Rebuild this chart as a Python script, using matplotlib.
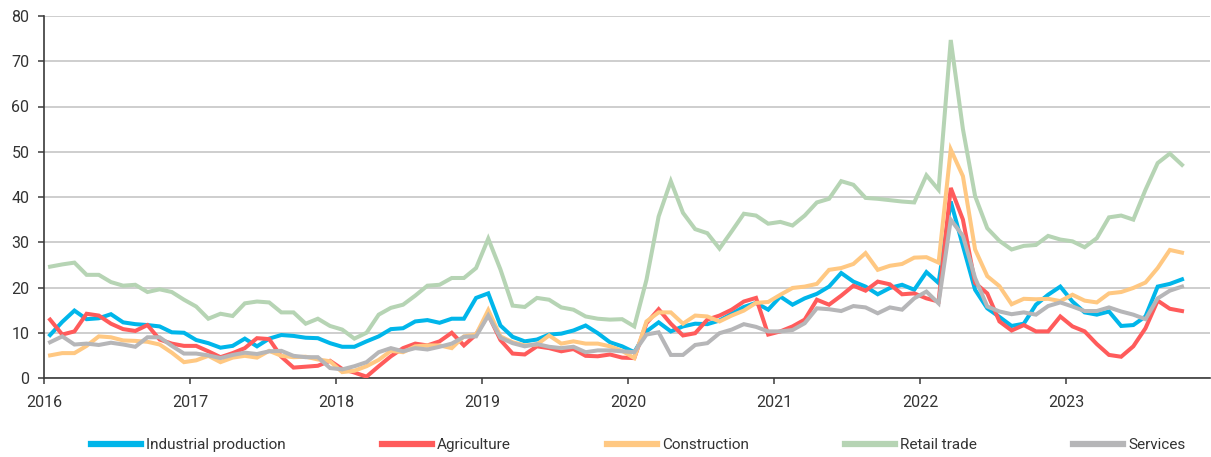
"""
Monthly series 2016-2023 by sector, line chart with legend below
"""
# ---   IMPORTS   --- #
# ------------------- #
import numpy as np
import matplotlib
matplotlib.use('Agg')
import matplotlib.pyplot as plt


# ---   SPECIFICATION   --- #
# ------------------------- #
YEARS = ['2016', '2017', '2018', '2019', '2020', '2021', '2022', '2023']

INDUSTRIAL = [
    9.5, 12.4, 14.9, 13.0, 13.2, 14.1, 12.3, 11.9, 11.7, 11.4, 10.1, 10.0,
    8.4, 7.7, 6.7, 7.1, 8.7, 7.0, 8.7, 9.5, 9.3, 8.9, 8.8, 7.7,
    6.9, 6.9, 8.1, 9.2, 10.8, 11.0, 12.5, 12.8, 12.2, 13.1, 13.1, 17.7,
    18.7, 11.6, 9.1, 8.1, 8.5, 9.6, 9.8, 10.5, 11.6, 9.9, 7.9, 7.0,
    5.7, 10.3, 12.3, 10.3, 11.4, 12.0, 11.9, 12.7, 14.2, 15.7, 16.6, 15.1,
    18.0, 16.2, 17.6, 18.6, 20.2, 23.2, 21.3, 20.2, 18.5, 19.9, 20.6, 19.5,
    23.4, 21.0, 39.0, 29.2, 19.5, 15.4, 13.5, 11.5, 12.0, 16.2, 18.4, 20.2,
    16.9, 14.5, 14.0, 14.7, 11.5, 11.7, 13.6, 20.2, 20.8, 21.8
]
AGRICULTURE = [
    12.9, 9.6, 10.3, 14.2, 13.8, 12.0, 10.8, 10.4, 11.7, 8.5, 7.6, 7.1,
    7.1, 5.9, 4.6, 5.5, 6.6, 8.8, 8.6, 4.7, 2.3, 2.5, 2.7, 3.8,
    2.0, 1.2, 0.3, 2.6, 4.8, 6.6, 7.6, 7.2, 8.1, 10.0, 7.2, 9.6,
    14.0, 8.4, 5.4, 5.2, 7.0, 6.6, 5.9, 6.4, 4.9, 4.8, 5.2, 4.5,
    4.4, 12.1, 15.2, 12.0, 9.4, 9.9, 12.9, 13.8, 15.1, 16.9, 17.7, 9.6,
    10.3, 11.4, 12.9, 17.3, 16.2, 18.2, 20.4, 19.3, 21.3, 20.7, 18.5, 18.7,
    17.6, 16.9, 42.0, 35.0, 21.0, 18.7, 12.5, 10.5, 11.7, 10.3, 10.3, 13.6,
    11.4, 10.3, 7.5, 5.1, 4.7, 7.0, 11.0, 17.1, 15.3, 14.8
]
CONSTRUCTION = [
    5.0, 5.5, 5.5, 7.1, 9.2, 9.0, 8.3, 8.2, 8.0, 7.4, 5.6, 3.5,
    3.9, 4.9, 3.5, 4.5, 4.9, 4.5, 6.0, 4.9, 4.6, 4.7, 4.1, 3.7,
    1.3, 1.6, 2.6, 4.0, 6.0, 5.7, 7.0, 7.2, 7.2, 6.6, 9.2, 9.6,
    15.0, 9.2, 7.9, 7.2, 7.4, 9.4, 7.6, 8.1, 7.6, 7.6, 7.0, 6.0,
    4.4, 12.5, 14.5, 14.5, 12.0, 13.8, 13.6, 12.5, 13.8, 14.9, 16.6, 16.8,
    18.4, 19.9, 20.2, 20.8, 23.9, 24.3, 25.2, 27.6, 23.9, 24.8, 25.2, 26.6,
    26.7, 25.5, 50.5, 44.6, 28.4, 22.5, 20.3, 16.3, 17.5, 17.4, 17.5, 17.0,
    18.4, 17.1, 16.7, 18.7, 19.0, 19.9, 21.1, 24.3, 28.3, 27.7
]
RETAIL = [
    24.6, 25.1, 25.5, 22.8, 22.8, 21.2, 20.4, 20.6, 19.0, 19.6, 19.0, 17.3,
    15.8, 13.1, 14.2, 13.7, 16.5, 16.9, 16.7, 14.5, 14.5, 12.0, 13.1, 11.5,
    10.7, 8.7, 10.0, 14.0, 15.5, 16.2, 18.2, 20.4, 20.6, 22.1, 22.1, 24.3,
    30.8, 24.0, 16.0, 15.7, 17.7, 17.3, 15.6, 15.1, 13.6, 13.1, 12.9, 13.0,
    11.4, 21.7, 35.7, 43.5, 36.5, 32.9, 32.0, 28.6, 32.4, 36.3, 35.9, 34.1,
    34.5, 33.7, 35.9, 38.8, 39.6, 43.5, 42.7, 39.8, 39.6, 39.3, 39.0, 38.8,
    44.8, 41.6, 74.7, 55.0, 40.2, 33.1, 30.3, 28.4, 29.2, 29.4, 31.4, 30.6,
    30.2, 28.9, 30.9, 35.5, 35.9, 35.0, 41.6, 47.5, 49.6, 47.1
]
SERVICES = [
    7.9, 9.2, 7.4, 7.6, 7.3, 7.8, 7.4, 6.9, 9.0, 9.0, 7.1, 5.4,
    5.4, 5.0, 4.4, 5.1, 5.6, 5.3, 5.9, 6.0, 4.9, 4.6, 4.6, 2.2,
    1.9, 2.6, 3.5, 5.7, 6.6, 5.9, 6.6, 6.3, 6.9, 7.6, 9.1, 9.2,
    13.8, 8.9, 7.7, 7.0, 7.5, 6.9, 6.6, 6.9, 5.7, 6.1, 6.1, 5.9,
    5.7, 9.6, 10.1, 5.1, 5.1, 7.3, 7.7, 9.9, 10.7, 11.9, 11.3, 10.3,
    10.3, 10.6, 12.1, 15.4, 15.2, 14.8, 15.9, 15.6, 14.3, 15.6, 15.1, 17.6,
    19.1, 16.5, 35.0, 31.4, 22.1, 15.8, 14.7, 14.1, 14.5, 14.0, 15.9, 16.7,
    15.8, 14.8, 14.8, 15.6, 14.7, 14.0, 13.0, 17.6, 19.3, 20.2
]

SERIES_NAMES = [
    'Industrial production', 'Agriculture', 'Construction',
    'Retail trade', 'Services'
]
SERIES_COLORS = ['#00b6ea', '#ff5b5b', '#ffc882', '#b6d4b4', '#b6b6b8']


# ---   METHODS   --- #
# ------------------- #
def graph():
    series = [INDUSTRIAL, AGRICULTURE, CONSTRUCTION, RETAIL, SERVICES]
    # Months since Jan 2016, points placed mid-month
    x = np.arange(len(INDUSTRIAL)) + 0.5
    # Initialize figure
    fig = plt.figure(figsize=(12.11, 4.57), dpi=100)
    ax = fig.add_axes([44 / 1211, 1 - 378 / 457, 1166 / 1211, 362 / 457])
    # Plot data
    for name, y, color in zip(SERIES_NAMES, series, SERIES_COLORS):
        ax.plot(x, y, color=color, lw=2.9, label=name,
                solid_joinstyle='miter', zorder=3)
    # Format axes
    ax.set_xlim(0, 95.8)
    ax.set_ylim(0, 80)
    ax.set_yticks(np.arange(0, 81, 10))
    ax.set_xticks(np.arange(len(YEARS)) * 12)
    ax.set_xticklabels(YEARS)
    ax.grid(axis='y', color='#c6c6c6', lw=1.2)
    ax.set_axisbelow(True)
    for side in ['top', 'right']:
        ax.spines[side].set_visible(False)
    for side in ['left', 'bottom']:
        ax.spines[side].set_color('#3a3a3a')
        ax.spines[side].set_linewidth(1.2)
    ax.tick_params(axis='both', colors='#3a3a3a', labelcolor='#333333',
                   labelsize=11.5, length=4.5, width=1.1)
    ax.tick_params(axis='x', pad=8)
    ax.tick_params(axis='y', pad=6)
    # Legend below
    fig.legend(
        loc='center', bbox_to_anchor=(638 / 1211, 1 - 445 / 457), ncol=5,
        frameon=False, fontsize=11, handlelength=3.3, handletextpad=0.3,
        columnspacing=6.3, labelcolor='#333333'
    )
    for line in fig.legends[0].get_lines():
        line.set_linewidth(4.5)
    fig.savefig('out.png', dpi=100)


# ---     MAIN     --- #
# -------------------- #
if __name__ == '__main__':
    plt.rcParams['font.family'] = ['Roboto', 'DejaVu Sans']
    graph()
